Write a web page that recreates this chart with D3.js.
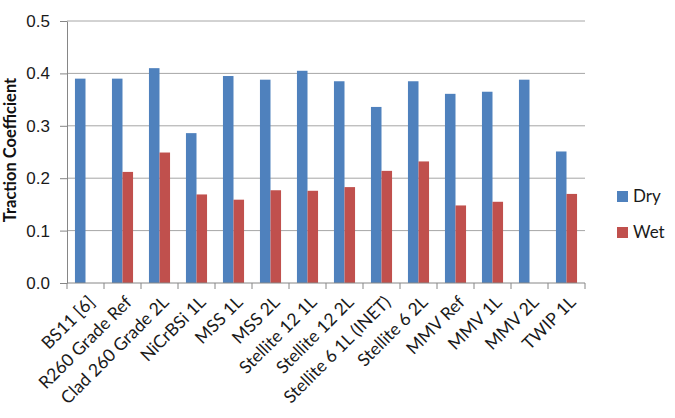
<!DOCTYPE html>
<html>
<head>
<meta charset="utf-8">
<script src="https://cdn.jsdelivr.net/npm/d3@7"></script>
<style>
  body { margin: 0; background: white; }
  svg { font-family: Lato, "Open Sans", sans-serif; }
</style>
</head>
<body>
<svg id="chart"></svg>
<script>
var categories = ["BS11 [6]", "R260 Grade Ref", "Clad 260 Grade 2L", "NiCrBSi 1L", "MSS 1L", "MSS 2L",
                  "Stellite 12 1L", "Stellite 12 2L", "Stellite 6 1L (INET)", "Stellite 6 2L",
                  "MMV Ref", "MMV 1L", "MMV 2L", "TWIP 1L"];
var dry = [0.39, 0.39, 0.41, 0.286, 0.395, 0.388, 0.405, 0.385, 0.336, 0.385, 0.361, 0.365, 0.388, 0.251];
var wet = [null, 0.212, 0.249, 0.169, 0.159, 0.177, 0.176, 0.183, 0.214, 0.232, 0.148, 0.155, null, 0.17];
var seriesNames = ["Dry", "Wet"];
var yTicks = [0, 0.1, 0.2, 0.3, 0.4, 0.5];

var colors = {"Dry": "#4f81bd", "Wet": "#c0504d"};

var W = 675, H = 418;
var margin = {top: 21, right: 90, bottom: 135, left: 67},
    width = 585 - margin.left,
    height = 283 - margin.top;

var svg = d3.select("#chart").attr("width", W).attr("height", H);

var x = d3.scaleBand().domain(categories).range([0, width]),
    y = d3.scaleLinear().domain([0, 0.5]).range([height, 0]);

var g = svg.append("g")
  .attr("transform", "translate(" + margin.left + "," + margin.top + ")");

// gridlines
g.append("g")
  .selectAll("line")
  .data(yTicks.slice(1))
  .enter().append("line")
    .attr("x1", 0).attr("x2", width)
    .attr("y1", d => y(d)).attr("y2", d => y(d))
    .attr("stroke", "#a6a6a6").attr("stroke-width", 1);

// bars
var barW = x.bandwidth() * 0.285;
var rows = [];
categories.forEach(function(c, i) {
  rows.push({cat: c, s: "Dry", v: dry[i], k: 0});
  if (wet[i] != null) rows.push({cat: c, s: "Wet", v: wet[i], k: 1});
});

g.selectAll("rect.bar")
  .data(rows)
  .enter().append("rect")
    .attr("class", "bar")
    .attr("x", d => x(d.cat) + x.bandwidth() / 2 - barW + d.k * barW)
    .attr("y", d => y(d.v))
    .attr("width", barW)
    .attr("height", d => height - y(d.v))
    .style("fill", d => colors[d.s]);

// y axis
var yAxis = g.append("g")
  .call(d3.axisLeft(y).tickValues(yTicks).tickFormat(d3.format(".1f")).tickSize(7).tickSizeOuter(0));
yAxis.select(".domain").attr("stroke", "#868686");
yAxis.selectAll(".tick line").attr("stroke", "#868686");
yAxis.selectAll("text")
  .attr("x", -17)
  .style("font-size", "17px")
  .style("fill", "#1a1a1a");

// x axis (ticks at category boundaries)
var xAxis = g.append("g").attr("transform", "translate(0," + height + ")");
xAxis.append("line")
  .attr("x1", 0).attr("x2", width)
  .attr("stroke", "#868686");
xAxis.selectAll("line.tk")
  .data(categories.concat([null]))
  .enter().append("line")
    .attr("class", "tk")
    .attr("x1", (d, i) => i * x.step()).attr("x2", (d, i) => i * x.step())
    .attr("y1", 0).attr("y2", 6)
    .attr("stroke", "#868686");

xAxis.selectAll("text")
  .data(categories)
  .enter().append("text")
    .attr("transform", d => "translate(" + (x(d) + x.bandwidth() / 2 + 6) + ",16) rotate(-45)")
    .attr("text-anchor", "end")
    .attr("dy", "0.35em")
    .style("font-size", "17.5px")
    .style("fill", "#1a1a1a")
    .text(d => d);

// y title
svg.append("text")
  .attr("transform", "translate(16,150) rotate(-90)")
  .attr("text-anchor", "middle")
  .style("font-size", "16.5px")
  .style("font-weight", "bold")
  .style("fill", "#111")
  .text("Traction Coefficient");

// legend
var legend = svg.append("g").attr("transform", "translate(617,191)");
seriesNames.forEach(function(s, i) {
  var lg = legend.append("g").attr("transform", "translate(0," + (i * 36) + ")");
  lg.append("rect").attr("width", 11).attr("height", 11).style("fill", colors[s]);
  lg.append("text").attr("x", 16).attr("y", 11)
    .style("font-size", "17px").style("fill", "#1a1a1a").text(s);
});
</script>
</body>
</html>
